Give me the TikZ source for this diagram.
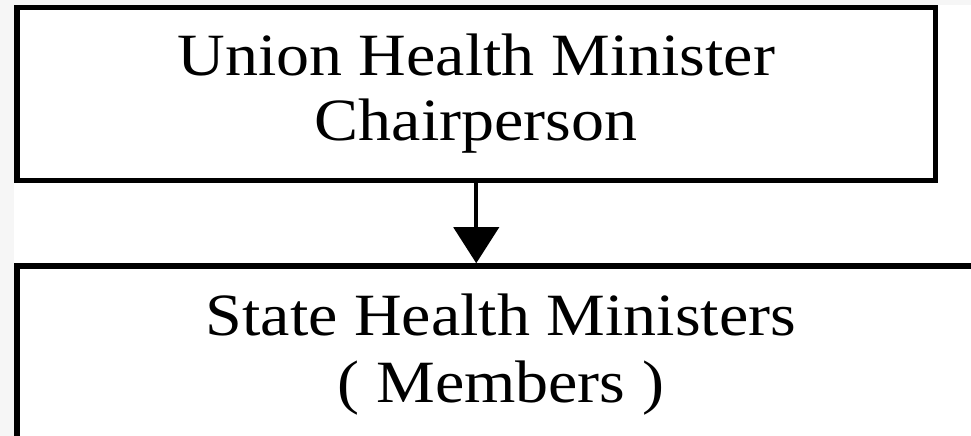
\documentclass[tikz,border=0pt]{standalone}
\usepackage{fontspec}
\setmainfont{Liberation Serif}[FakeStretch=1.1]
\usetikzlibrary{arrows.meta,positioning}
\definecolor{pagegray}{HTML}{F6F6F6}

\begin{document}
\begin{tikzpicture}[x=1bp,y=-1bp,->,>={Triangle[length=36bp,width=45bp]},line width=4bp,
    main node/.style={rectangle,draw,line width=5.5bp,inner sep=0pt,align=center,font=\fontsize{60bp}{65bp}\selectfont}]
    \useasboundingbox (0,0) rectangle (971,436);
    \fill[white] (0,0) rectangle (971,436);
    \fill[pagegray] (0,0) rectangle (14,436);
    \fill[pagegray] (0,0) rectangle (971,5);

    \node[main node,minimum width=918.5bp,minimum height=173bp] (1) at (476.25,94) {Union Health Minister\\Chairperson};
    \node[main node,minimum width=968bp,minimum height=177bp,font=\fontsize{60bp}{67bp}\selectfont] (2) at (501,354.5) {State Health Ministers\\( Members )};
    \coordinate (3) at (1.south |- 2.north);

    \path
        (1) edge (3)
        ;
\end{tikzpicture}
\end{document}
